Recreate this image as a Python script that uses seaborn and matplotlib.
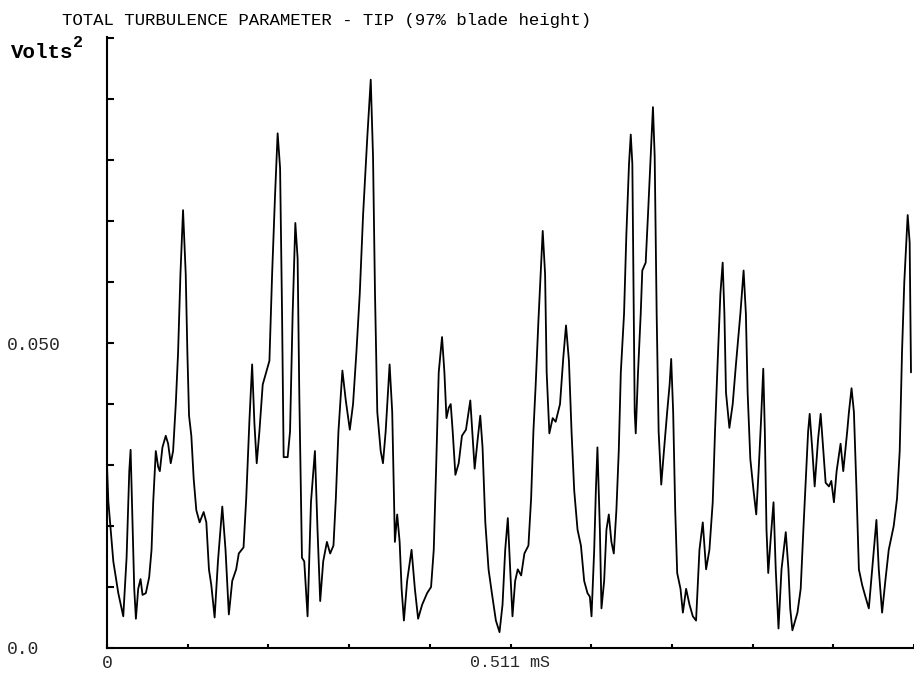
import numpy as np
import pandas as pd
import seaborn as sns
import matplotlib.pyplot as plt

# time in microseconds, turbulence parameter in volts^2 x 1e-3
time_us = [0, 1.7, 8.0, 14.3, 20.6, 24.8, 28.2, 29.9, 31.9, 34.5,
           36.6, 39.5, 42.5, 45.0, 49.2, 53.4, 56.4, 58.5, 61.8, 64.8,
           66.9, 70.2, 74.4, 77.4, 80.7, 83.7, 87.1, 90.0, 93.0, 96.3,
           99.7, 101.8, 103.9, 106.8, 109.8, 113.1, 117.3, 122.4, 125.8, 129.1,
           132.1, 136.3, 140.5, 146.0, 150.1, 154.3, 158.6, 163.6, 166.9, 172.9,
           176.3, 180.4, 183.8, 186.7, 189.6, 193.0, 197.2, 201.5, 205.7, 209.1,
           212.8, 216.1, 219.2, 221.7, 223.7, 228.8, 231.8, 235.1, 238.5, 241.4,
           243.5, 246.9, 249.8, 254.0,
           258.3, 263.3, 266.6, 270.0, 273.8, 278.5, 282.6, 286.8, 289.8, 293.1,
           298.1, 302.4, 307.5, 311.6, 315.8, 320.1, 324.3, 329.7, 334.0, 336.9,
           339.4, 342.3, 346.6, 349.5, 352.9, 357.9, 361.2, 364.6, 367.5, 370.6,
           373.1, 376.0, 380.1, 385.7, 389.9, 394.0, 399.1, 405.4, 410.4, 413.8,
           416.7, 420.1, 424.3, 427.3, 429.9, 432.8, 435.3, 437.8, 441.2, 445.4,
           449.5, 454.6, 460.1, 463.0, 465.6, 469.4, 472.7, 475.6, 479.1, 483.2,
           487.4, 492.5, 497.1, 500.9, 504.3, 507.6,
           510.6, 513.5, 516.9, 520.2, 524.5, 528.6, 533.7, 537.1, 540.0, 542.9,
           546.3, 549.2, 551.8, 554.8, 556.8, 560.2, 564.4, 568.2, 573.7, 577.9,
           581.3, 585.0, 588.3, 591.7, 595.9, 600.2, 604.3, 608.5, 611.5, 613.6,
           617.0, 619.1, 621.1, 624.2, 626.2, 629.6, 632.5, 635.5, 638.8, 641.8,
           645.1, 648.1, 650.7, 654.8, 657.7, 661.1, 663.3, 665.3, 667.1, 668.3,
           669.6, 672.5, 675.9, 677.9, 682.2, 685.1, 688.5, 691.4, 693.6, 696.1,
           698.6, 701.9, 705.3, 709.4, 712.5, 714.5, 717.0, 719.6, 722.1, 726.3,
           729.3, 733.4, 737.7, 741.9, 746.0, 750.3, 754.5, 758.7,
           762.9, 767.1, 770.0, 773.4, 776.8, 779.7, 781.9, 783.9, 788.2, 792.4,
           796.5, 802.1, 806.2, 809.1, 811.3, 814.7, 818.8, 822.2, 825.2, 828.1,
           831.1, 833.1, 835.2, 837.4, 840.6, 844.1, 846.9, 850.4, 854.2, 859.6,
           863.0, 865.2, 868.0, 874.4, 878.5, 881.9, 884.8, 887.9, 889.9, 893.3,
           896.2, 900.5, 903.8, 907.2, 910.1, 914.3, 917.3, 920.6, 924.0, 929.0,
           932.4, 937.4, 939.6, 942.9, 945.9, 949.2, 952.2, 956.4, 960.5, 964.8,
           969.0, 974.4, 977.4, 981.6, 985.7, 990.0, 996.3, 1000.5, 1003.9, 1006.8,
           1009.7, 1014.0, 1016.5, 1018.2]

turb_e3 = [30.0, 24.0, 14.2, 9.0, 5.2, 14.8, 29.0, 32.5, 22.6, 9.7,
           4.8, 9.7, 11.3, 8.7, 9.0, 11.6, 16.1, 23.9, 32.3, 29.7,
           29.0, 32.9, 34.8, 33.5, 30.3, 32.3, 40.0, 48.4, 61.3, 71.8,
           61.3, 48.4, 38.1, 34.8, 27.7, 22.6, 20.6, 22.3, 20.6, 12.9,
           10.3, 5.0, 14.2, 23.2, 16.1, 5.5, 11.0, 12.9, 15.5, 16.5,
           24.5, 37.4, 46.5, 36.8, 30.3, 35.5, 43.2, 45.2, 47.1, 61.3,
           74.2, 84.4, 78.7, 54.8, 31.3, 31.3, 35.5, 54.8, 69.7, 63.9,
           41.9, 14.8, 14.2, 5.2,
           23.9, 32.3, 19.4, 7.7, 14.2, 17.4, 15.5, 16.8, 24.5, 35.5,
           45.5, 40.6, 35.8, 40.0, 48.4, 58.1, 71.0, 83.9, 93.2, 80.6,
           58.1, 38.7, 32.3, 30.3, 35.5, 46.5, 38.7, 17.4, 21.9, 17.4,
           9.7, 4.5, 11.0, 16.1, 9.7, 4.8, 7.1, 9.0, 10.0, 16.1,
           29.0, 45.2, 51.0, 45.2, 37.7, 39.4, 40.0, 35.5, 28.4, 30.3,
           34.8, 35.8, 40.6, 34.8, 29.4, 34.2, 38.1, 32.9, 20.6, 12.9,
           9.0, 4.5, 2.6, 7.1, 16.1, 21.3,
           12.9, 5.2, 11.0, 12.9, 11.9, 15.5, 16.8, 24.5, 35.5, 43.2,
           53.5, 61.3, 68.4, 61.3, 45.2, 35.2, 37.7, 37.1, 40.0, 47.7,
           52.9, 47.1, 35.5, 25.8, 19.4, 16.8, 11.0, 9.0, 8.4, 5.2,
           16.1, 25.8, 32.9, 19.4, 6.5, 11.0, 19.4, 21.9, 17.4, 15.5,
           22.6, 32.3, 45.2, 54.8, 67.7, 79.4, 84.2, 79.4, 54.8, 38.7,
           35.2, 45.2, 54.8, 61.9, 63.2, 71.0, 80.6, 88.7, 80.6, 54.8,
           35.5, 26.8, 32.3, 38.7, 43.2, 47.4, 38.7, 22.6, 12.3, 9.7,
           5.8, 9.7, 7.1, 5.2, 4.5, 16.1, 20.6, 12.9,
           16.1, 23.9, 35.5, 47.1, 58.1, 63.2, 54.8, 41.9, 36.1, 40.0,
           46.5, 54.8, 61.9, 54.8, 41.9, 31.0, 25.8, 21.9, 29.0, 36.8,
           45.8, 35.5, 19.4, 12.3, 18.1, 23.9, 12.9, 3.2, 12.9, 19.0,
           12.9, 6.5, 2.9, 5.8, 9.7, 19.4, 27.1, 35.5, 38.4, 32.3,
           26.5, 34.2, 38.4, 32.3, 27.1, 26.5, 27.4, 23.9, 29.0, 33.5,
           29.0, 35.5, 38.7, 42.6, 38.7, 25.8, 12.9, 10.3, 8.4, 6.5,
           12.9, 21.0, 12.9, 5.8, 11.0, 16.1, 20.0, 24.5, 32.3, 48.4,
           60.0, 71.0, 66.5, 45.2]

y_ticks = [0.0, 0.01, 0.02, 0.03, 0.04, 0.05, 0.06, 0.07, 0.08, 0.09, 0.10]
y_labels = ['0.0', '', '', '', '', '0.050', '', '', '', '', '']
x_step = 0.1022  # ms between x tick marks
x_labels = ['0', '', '', '', '', '0.511 mS', '', '', '', '', '']

df = pd.DataFrame({'t': np.array(time_us) / 1000.0,
                   'v': np.array(turb_e3) / 1000.0})

sns.set_theme(style="white")
plt.rcParams['font.family'] = ['DejaVu Sans']

fig = plt.figure(figsize=(9.14, 6.75), dpi=100)
ax = fig.add_axes([107 / 914, 1 - 648 / 675, 1 - 107 / 914, (648 - 37) / 675])

sns.lineplot(data=df, x='t', y='v', color='black', linewidth=1.3,
             estimator=None, sort=False, ax=ax)

ax.set_xlim(0, 1.018)
ax.set_ylim(0, 0.1002)
ax.set_xlabel('')
ax.set_ylabel('')
sns.despine(ax=ax)
for s in ['left', 'bottom']:
    ax.spines[s].set_color('black')
    ax.spines[s].set_linewidth(1.5)

ax.set_yticks(y_ticks)
ax.set_yticklabels(y_labels, fontfamily='Liberation Mono', fontsize=13, ha='left')
ax.set_xticks([i * x_step for i in range(len(x_labels))])
ax.set_xticklabels(x_labels, fontfamily='Liberation Mono', fontsize=12)
ax.get_xticklabels()[0].set_fontsize(13)
ax.tick_params(axis='y', left=True, direction='in', length=5, width=1.5,
               color='black', pad=72)
ax.tick_params(axis='x', bottom=True, direction='in', length=3, width=1.5,
               color='black', pad=5)

fig.text(62 / 914, 1 - 20 / 675, 'TOTAL TURBULENCE PARAMETER - TIP (97% blade height)',
         fontfamily='Liberation Mono', fontsize=12.5, ha='left', va='center',
         color='black')
# y unit: "Volts" with a raised "2"
fig.text(11 / 914, 1 - 58 / 675, 'Volts', fontfamily='Liberation Mono',
         fontweight='bold', fontsize=15, ha='left', va='baseline', color='black')
fig.text(73 / 914, 1 - 47 / 675, '2', fontfamily='Liberation Mono',
         fontweight='bold', fontsize=12, ha='left', va='baseline', color='black')

fig.savefig('out.png', dpi=100)
